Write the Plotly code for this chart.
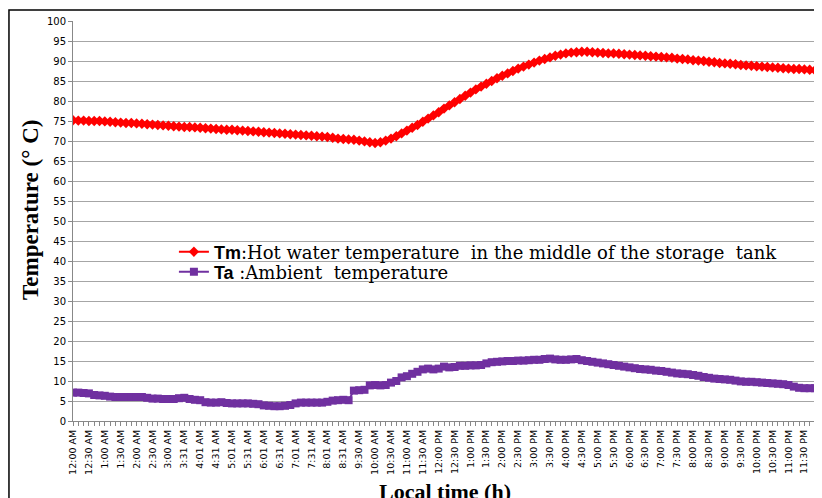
import plotly.graph_objects as go

# Tick labels (every 30 min, 10-min data between)
tick_labels = [
    "12:00 AM", "12:30 AM", "1:00 AM", "1:30 AM", "2:00 AM", "2:30 AM", "3:00 AM",
    "3:31 AM", "4:01 AM", "4:31 AM", "5:01 AM", "5:31 AM", "6:01 AM", "6:31 AM",
    "7:01 AM", "7:31 AM", "8:01 AM", "8:31 AM", "9:30 AM", "10:00 AM", "10:30 AM",
    "11:00 AM", "11:30 AM", "12:00 PM", "12:30 PM", "1:00 PM", "1:30 PM", "2:00 PM",
    "2:30 PM", "3:00 PM", "3:30 PM", "4:00 PM", "4:30 PM", "5:00 PM", "5:30 PM",
    "6:00 PM", "6:30 PM", "7:00 PM", "7:30 PM", "8:00 PM", "8:30 PM", "9:00 PM",
    "9:30 PM", "10:00 PM", "10:30 PM", "11:00 PM", "11:30 PM",
]

tm_values = [
    75.2, 75.1, 75.1, 75.0, 75.0, 75.0, 74.9, 74.8, 74.7, 74.6,
    74.5, 74.5, 74.4, 74.3, 74.2, 74.1, 74.0, 73.9, 73.8, 73.7,
    73.6, 73.5, 73.5, 73.4, 73.3, 73.2, 73.1, 73.0, 72.9, 72.8,
    72.8, 72.7, 72.6, 72.5, 72.4, 72.3, 72.2, 72.1, 72.0, 71.9,
    71.8, 71.7, 71.6, 71.5, 71.4, 71.3, 71.2, 71.1, 71.0, 70.8,
    70.6, 70.5, 70.4, 70.3, 70.1, 69.9, 69.7, 69.5, 69.7, 70.1,
    70.6, 71.2, 71.9, 72.6, 73.3, 74.0, 74.8, 75.6, 76.4, 77.2,
    78.1, 78.9, 79.7, 80.5, 81.3, 82.1, 82.9, 83.6, 84.3, 85.0,
    85.7, 86.3, 86.9, 87.5, 88.1, 88.6, 89.1, 89.6, 90.1, 90.5,
    90.9, 91.3, 91.6, 91.9, 92.1, 92.2, 92.3, 92.3, 92.2, 92.1,
    92.0, 91.9, 91.9, 91.8, 91.7, 91.6, 91.5, 91.4, 91.3, 91.2,
    91.1, 91.0, 90.9, 90.8, 90.6, 90.5, 90.4, 90.2, 90.1, 90.0,
    89.8, 89.7, 89.5, 89.4, 89.3, 89.2, 89.0, 88.9, 88.8, 88.7,
    88.6, 88.5, 88.4, 88.3, 88.2, 88.1, 88.0, 88.0, 87.9, 87.8, 87.7,
]

ta_values = [
    7.1, 7.1, 7.0, 6.9, 6.5, 6.4, 6.3, 6.1, 6.0, 6.0,
    6.0, 6.0, 6.0, 6.0, 5.8, 5.6, 5.6, 5.5, 5.5, 5.5,
    5.7, 5.8, 5.5, 5.3, 5.2, 4.7, 4.6, 4.6, 4.7, 4.5,
    4.4, 4.4, 4.4, 4.4, 4.3, 4.2, 3.9, 3.8, 3.7, 3.7,
    3.8, 4.0, 4.4, 4.6, 4.6, 4.6, 4.6, 4.6, 4.8, 5.1,
    5.2, 5.3, 5.2, 7.6, 7.7, 7.8, 8.9, 9.0, 8.9, 9.0,
    9.6, 10.0, 10.9, 11.2, 11.8, 12.3, 12.9, 13.1, 12.9, 13.1,
    13.6, 13.4, 13.5, 13.8, 13.8, 13.9, 13.9, 14.0, 14.4, 14.7,
    14.8, 14.9, 15.0, 15.0, 15.1, 15.1, 15.2, 15.3, 15.3, 15.5,
    15.6, 15.4, 15.3, 15.3, 15.4, 15.5, 15.2, 15.0, 14.8, 14.6,
    14.4, 14.2, 14.0, 13.8, 13.6, 13.4, 13.2, 13.0, 12.9, 12.8,
    12.6, 12.5, 12.3, 12.1, 11.9, 11.8, 11.7, 11.5, 11.3, 11.0,
    10.8, 10.6, 10.5, 10.4, 10.3, 10.1, 9.9, 9.8, 9.8, 9.7,
    9.6, 9.5, 9.4, 9.3, 9.2, 9.0, 8.6, 8.3, 8.2, 8.2, 8.2,
]

SERIF = "DejaVu Serif"
tm_name = ("<b>Tm</b><span style='font-family:" + SERIF + ";font-size:18px'>"
           ":Hot water temperature\u00a0\u00a0in the middle of the storage\u00a0\u00a0tank</span>")
ta_name = ("<b>Ta</b><span style='font-family:" + SERIF + ";font-size:18px'>"
           "\u00a0:Ambient\u00a0\u00a0temperature</span>")

x_idx = list(range(len(tm_values)))
tick_pos = [i * 3 for i in range(len(tick_labels))]

fig = go.Figure()
fig.add_trace(go.Scatter(
    x=x_idx, y=tm_values, mode="lines+markers", name=tm_name,
    line=dict(color="#FF0000", width=2),
    marker=dict(symbol="diamond", size=8, color="#FF0000"),
    legend="legend",
))
fig.add_trace(go.Scatter(
    x=x_idx, y=ta_values, mode="lines+markers", name=ta_name,
    line=dict(color="#7030A0", width=2),
    marker=dict(symbol="square", size=8, color="#7030A0"),
    legend="legend2",
))

leg_common = dict(
    xanchor="left", yanchor="middle",
    bgcolor="rgba(0,0,0,0)",
    font=dict(family="Liberation Sans", size=18, color="black"),
    itemwidth=30,
)

# The page body adds an 8px offset; figure is sized to compensate.
fig.update_layout(
    width=814, height=490,
    margin=dict(l=65, r=7, t=13, b=77),
    paper_bgcolor="white", plot_bgcolor="white",
    showlegend=True,
    legend=dict(x=0.136, y=0.4225, **leg_common),
    legend2=dict(x=0.136, y=0.3725, **leg_common),
    xaxis=dict(
        range=[0, 140], automargin=False,
        tickmode="array", tickvals=tick_pos, ticktext=tick_labels,
        tickangle=-90,
        tickfont=dict(family="DejaVu Sans", size=9.5, color="black"),
        ticks="outside", ticklen=4, tickcolor="#888888",
        minor=dict(ticks="outside", dtick=1, ticklen=4, tickcolor="#888888"),
        showgrid=False, zeroline=False,
        showline=True, linecolor="#888888", linewidth=1,
    ),
    yaxis=dict(
        range=[0, 100], dtick=5, automargin=False,
        tickfont=dict(family="DejaVu Sans", size=10, color="black"),
        ticks="outside", ticklen=4, tickcolor="#888888",
        showgrid=True, gridcolor="#A6A6A6", gridwidth=1,
        zeroline=False,
        showline=True, linecolor="#888888", linewidth=1,
    ),
    annotations=[
        dict(text="<b>Local time (h)</b>", xref="paper", yref="paper",
             x=0.501, y=-0.176, xanchor="center", yanchor="middle", showarrow=False,
             font=dict(family="Liberation Serif", size=22, color="black")),
        dict(text="<b>Temperature (° C)</b>", xref="paper", yref="paper",
             x=-0.058, y=0.5275, xanchor="center", yanchor="middle", showarrow=False,
             textangle=-90,
             font=dict(family="Liberation Serif", size=23, color="black")),
    ],
    shapes=[dict(
        type="rect", xref="paper", yref="paper",
        x0=-0.0863, x1=1.0054, y0=-0.21, y1=1.0275,
        line=dict(color="black", width=1.5), fillcolor="rgba(0,0,0,0)",
        layer="below",
    )],
)

fig.write_html("out.html")
